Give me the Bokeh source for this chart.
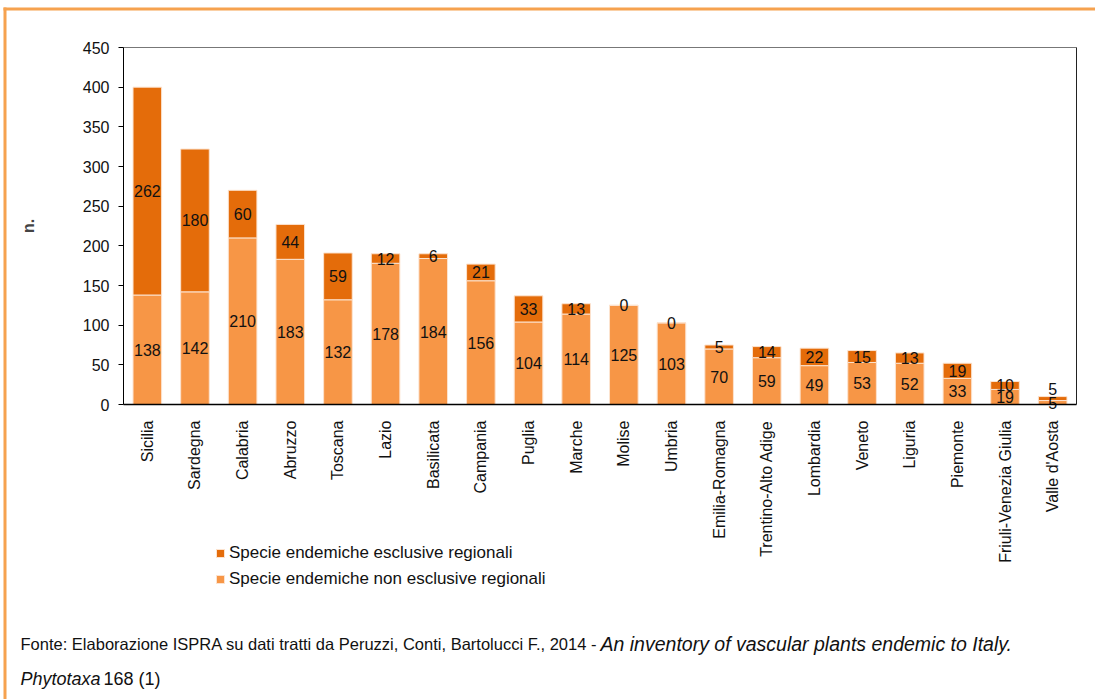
import math
from bokeh.plotting import figure
from bokeh.models import (ColumnDataSource, Range1d, FixedTicker, Legend,
                          LegendItem, Label, BoxAnnotation)
from bokeh.core.properties import value
from bokeh.embed import file_html
from bokeh.resources import INLINE

# ---------------- data ----------------
regions = ["Sicilia", "Sardegna", "Calabria", "Abruzzo", "Toscana", "Lazio", "Basilicata",
           "Campania", "Puglia", "Marche", "Molise", "Umbria", "Emilia-Romagna",
           "Trentino-Alto Adige", "Lombardia", "Veneto", "Liguria", "Piemonte",
           "Friuli-Venezia Giulia", "Valle d'Aosta"]
non_esclusive = [138, 142, 210, 183, 132, 178, 184, 156, 104, 114, 125, 103, 70, 59, 49, 53, 52, 33, 19, 5]
esclusive = [262, 180, 60, 44, 59, 12, 6, 21, 33, 13, 0, 0, 5, 14, 22, 15, 13, 19, 10, 5]
y_ticks = [0, 50, 100, 150, 200, 250, 300, 350, 400, 450]
series_names = ["Specie endemiche esclusive regionali", "Specie endemiche non esclusive regionali"]
y_axis_label = "n."
footer_normal = "Fonte: Elaborazione ISPRA su dati tratti da Peruzzi, Conti, Bartolucci F., 2014 - "
footer_italic = "An inventory of vascular plants endemic to Italy."
footer2_italic = "Phytotaxa"
footer2_normal = "168 (1)"

DARK = "#E46C0A"
LIGHT = "#F79646"
FRAME = "#F6A24F"
FONT = "Liberation Sans"

W, H = 1095, 699
# plot box in page pixels
BOX_L, BOX_R, BOX_T, BOX_B = 123, 1076, 47, 404

n_cat = len(regions)
y_max = y_ticks[-1]
xs = [i + 0.5 for i in range(n_cat)]
px_x = (BOX_R - BOX_L) / n_cat
px_y = (BOX_B - BOX_T) / y_max

src = ColumnDataSource(dict(x=xs, region=regions, non=non_esclusive, excl=esclusive))

p = figure(x_range=Range1d(-BOX_L / px_x, n_cat + (W - BOX_R) / px_x),
           y_range=Range1d(-(H - BOX_B) / px_y, y_max + BOX_T / px_y),
           width=W, height=H, output_backend="svg", toolbar_location=None,
           min_border=0, min_border_left=0, min_border_right=0, min_border_top=0, min_border_bottom=0,
           background_fill_color="white", border_fill_color="white")
p.outline_line_color = None
p.xgrid.visible = False
p.ygrid.visible = False

rs = p.vbar_stack(["non", "excl"], x="x", width=0.6, source=src,
                  fill_color=[LIGHT, DARK], line_color="#FCE3CF", line_width=1)

# plot box: top and right edges
p.segment(x0=[0, n_cat], y0=[y_max, 0], x1=[n_cat, n_cat], y1=[y_max, y_max],
          line_color=["#777777", "#222222"], line_width=1)

# segment labels (centred in each segment)
lab_x, lab_y, lab_t = [], [], []
for x, n, e in zip(xs, non_esclusive, esclusive):
    yn = n / 2
    ye = n + e / 2
    if ye - yn < 12:
        ye = n + e + 10
    lab_x += [x, x]
    lab_y += [yn, ye]
    lab_t += [str(n), str(e)]
p.text(x="x", y="y", text="t",
       source=ColumnDataSource(dict(x=lab_x, y=lab_y, t=lab_t)),
       text_font=value(FONT), text_font_size="16px", text_align="center",
       text_baseline="middle", text_color="#111111")

# axes at fixed locations
p.yaxis.fixed_location = 0
p.yaxis.bounds = (0, y_max)
p.yaxis.ticker = FixedTicker(ticks=y_ticks)
p.yaxis.minor_tick_line_color = None
p.yaxis.major_tick_in = 0
p.yaxis.major_tick_out = 5
p.yaxis.major_label_standoff = 9
p.yaxis.major_label_text_font = FONT
p.yaxis.major_label_text_font_size = "16px"
p.yaxis.major_label_text_color = "#111111"
p.yaxis.axis_line_color = "black"
p.yaxis.major_tick_line_color = "black"
p.yaxis.axis_label = y_axis_label
p.yaxis.axis_label_text_font = FONT
p.yaxis.axis_label_text_font_style = "bold"
p.yaxis.axis_label_text_font_size = "16px"
p.yaxis.axis_label_standoff = 43

p.xaxis.fixed_location = 0
p.xaxis.bounds = (0, n_cat)
p.xaxis.ticker = FixedTicker(ticks=xs)
p.xaxis.major_label_overrides = {x: r for x, r in zip(xs, regions)}
p.xaxis.major_label_orientation = math.pi / 2
p.xaxis.major_tick_line_color = None
p.xaxis.minor_tick_line_color = None
p.xaxis.major_label_standoff = 10
p.xaxis.major_label_text_font = FONT
p.xaxis.major_label_text_font_size = "16px"
p.xaxis.major_label_text_color = "#111111"
p.xaxis.axis_line_color = "black"
p.xaxis.axis_line_width = 1.5

# legend (frame covers whole canvas: screen coords from bottom-left)
legend = Legend(items=[LegendItem(label=series_names[0], renderers=[rs[1]]),
                       LegendItem(label=series_names[1], renderers=[rs[0]])],
                location=(215, H - 589), orientation="vertical", glyph_width=10, glyph_height=10,
                label_standoff=4, spacing=6, padding=0, margin=0, label_height=20,
                border_line_color=None, background_fill_alpha=0,
                label_text_font=FONT, label_text_font_size="17px", label_text_color="#111111")
p.add_layout(legend)

# orange frame (top and left)
for l, r, b, t in [(3, 6, 0, H - 7), (3, W, H - 10, H - 7)]:
    p.add_layout(BoxAnnotation(left=l, right=r, bottom=b, top=t,
                               left_units="screen", right_units="screen",
                               bottom_units="screen", top_units="screen",
                               fill_color=FRAME, fill_alpha=1, line_color=None))

# footer
for txt, x, y, style, size in [(footer_normal, 20, H - 643, "normal", "16.5px"),
                               (footer_italic, 600, H - 643, "italic", "19.5px"),
                               (footer2_italic, 20, H - 678, "italic", "18px"),
                               (footer2_normal, 103, H - 678, "normal", "18px")]:
    p.add_layout(Label(x=x, y=y, x_units="screen", y_units="screen", text=txt,
                       text_font=FONT, text_font_size=size, text_font_style=style,
                       text_baseline="middle", text_color="#111111"))

open("out.html", "w").write(file_html(p, INLINE))
